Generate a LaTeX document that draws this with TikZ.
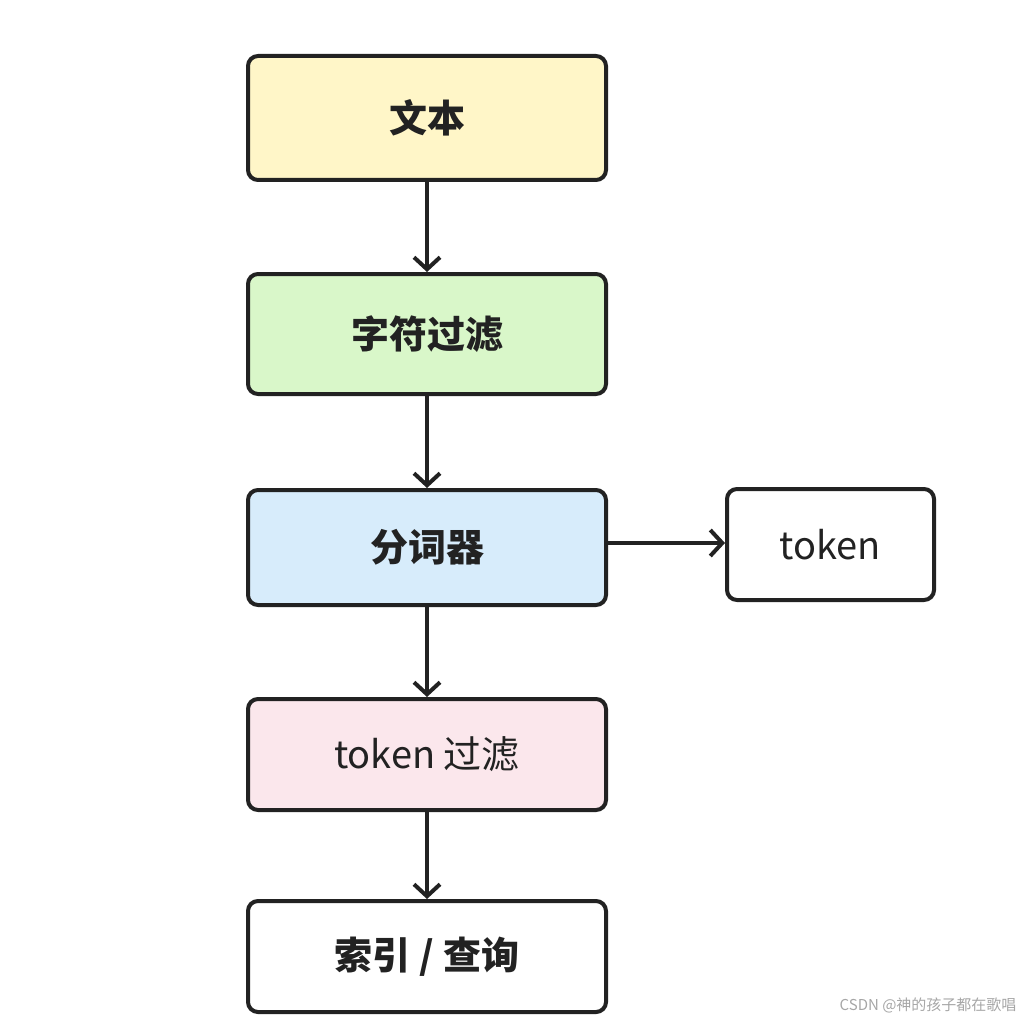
\documentclass[tikz,border=0pt]{standalone}
\usepackage{fontspec}
\setmainfont{Noto Sans CJK SC}
\usetikzlibrary{arrows.meta}
\definecolor{cy}{HTML}{FFF6C8}
\definecolor{cg}{HTML}{D9F7C9}
\definecolor{cb}{HTML}{D7ECFB}
\definecolor{cp}{HTML}{FBE7EC}
\definecolor{ln}{HTML}{222222}
\begin{document}
\begin{tikzpicture}[x=1pt,y=-1pt,
  box/.style={draw=ln,line width=4pt,rounded corners=10pt,anchor=north west,inner sep=0pt,font=\fontsize{38}{44}\selectfont\bfseries,text=ln},
  arr/.style={draw=ln,line width=4pt,-{Straight Barb[length=12pt,width=26pt,line width=4pt]}}]
\useasboundingbox (0,0) rectangle (1024,1024);
\node[box,fill=cy,minimum width=358pt,minimum height=124pt] (a) at (246,54) {};
\node[font=\fontsize{38}{44}\selectfont\bfseries,text=ln] at (a.center) {文本};
\node[box,fill=cg,minimum width=358pt,minimum height=120pt] (b) at (246,272) {};
\node[font=\fontsize{38}{44}\selectfont\bfseries,text=ln] at (b.center) {字符过滤};
\node[box,fill=cb,minimum width=358pt,minimum height=115pt] (c) at (246,488) {};
\node[font=\fontsize{38}{44}\selectfont\bfseries,text=ln] at (c.center) {分词器};
\node[box,fill=cp,minimum width=358pt,minimum height=111pt] (d) at (246,697) {};
\node[font=\fontsize{38}{44}\selectfont,text=ln] at (d.center) {token 过滤};
\node[box,fill=white,minimum width=358pt,minimum height=111pt] (e) at (246,899) {};
\node[font=\fontsize{38}{44}\selectfont\bfseries,text=ln] at (e.center) {索引 / 查询};
\node[box,fill=white,minimum width=207pt,minimum height=111pt] (t) at (725,487) {};
\node[font=\fontsize{38}{44}\selectfont,text=ln] at (t.center) {token};
\draw[arr] (a.south) -- (b.north);
\draw[arr] (b.south) -- (c.north);
\draw[arr] (c.south) -- (d.north);
\draw[arr] (d.south) -- (e.north);
\draw[arr] (c.east |- 0,543) -- (t.west |- 0,543);
\node[font=\fontsize{15}{18}\selectfont,text=gray!70,anchor=east] (w) at (1020,1005) {CSDN @神的孩子都在歌唱};
\end{tikzpicture}
\end{document}
